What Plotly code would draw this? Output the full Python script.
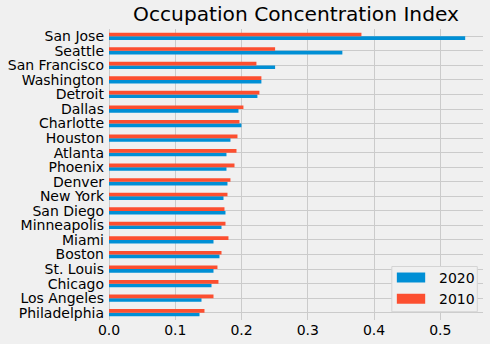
import plotly.graph_objects as go

# Cities listed from top of the chart to bottom
cities = ["San Jose", "Seattle", "San Francisco", "Washington", "Detroit",
          "Dallas", "Charlotte", "Houston", "Atlanta", "Phoenix", "Denver",
          "New York", "San Diego", "Minneapolis", "Miami", "Boston",
          "St. Louis", "Chicago", "Los Angeles", "Philadelphia"]
index_2020 = [0.5376, 0.3522, 0.2507, 0.2300, 0.2240, 0.1954, 0.1999, 0.1833,
              0.1773, 0.1773, 0.1788, 0.1728, 0.1758, 0.1698, 0.1577, 0.1667,
              0.1577, 0.1547, 0.1396, 0.1366]
index_2010 = [0.3810, 0.2507, 0.2225, 0.2300, 0.2270, 0.2029, 0.1969, 0.1939,
              0.1924, 0.1894, 0.1833, 0.1788, 0.1743, 0.1758, 0.1803, 0.1698,
              0.1637, 0.1652, 0.1577, 0.1441]
x_ticks = [0.0, 0.1, 0.2, 0.3, 0.4, 0.5]
series_names = ["2020", "2010"]

BLUE = "#008fd5"
RED = "#fc4f30"
BG = "#f0f0f0"
GRID = "#cbcbcb"
FONT = "DejaVu Sans"
TICK_SIZE = 14

# bottom-to-top order for the category axis
order = cities[::-1]

fig = go.Figure()
fig.add_trace(go.Bar(y=cities, x=index_2020, orientation="h", name=series_names[0],
                     marker=dict(color=BLUE, line=dict(width=0))))
fig.add_trace(go.Bar(y=cities, x=index_2010, orientation="h", name=series_names[1],
                     marker=dict(color=RED, line=dict(width=0))))

xmax = max(max(index_2020), max(index_2010)) * 1.05

W, H = 490, 344
ml, mr, mt, mb = 109.4, 7.3, 28.6, 23.7
pw, ph = W - ml - mr, H - mt - mb


def px_x(p):
    return (p - ml) / pw


def px_y(p):
    return (H - mb - p) / ph


fig.update_layout(
    width=W, height=H,
    margin=dict(l=ml, r=mr, t=mt, b=mb, pad=0),
    paper_bgcolor=BG, plot_bgcolor=BG,
    barmode="group", bargap=0.5, bargroupgap=0,
    showlegend=False,
    font=dict(family=FONT, color="#000000", size=TICK_SIZE),
    title=dict(text="Occupation Concentration Index", x=0.5, xref="paper",
               y=1 - 14 / H, yref="container", yanchor="middle",
               font=dict(family=FONT, size=20.2, color="#000000")),
    xaxis=dict(range=[0, xmax], tickvals=x_ticks, tickformat=".1f",
               showgrid=True, gridcolor=GRID, gridwidth=1.3,
               zeroline=True, zerolinecolor=GRID, zerolinewidth=1.3,
               ticks="", showline=False, tickfont=dict(size=TICK_SIZE)),
    yaxis=dict(categoryorder="array", categoryarray=order, range=[-0.5, 19.5],
               tickmode="array", tickvals=order, ticktext=order,
               showgrid=True, gridcolor=GRID, gridwidth=1.3,
               ticks="", showline=False, ticklabelstandoff=4,
               tickfont=dict(size=TICK_SIZE)),
)

# legend box
fig.add_shape(type="rect", xref="paper", yref="paper",
              x0=px_x(391.7), x1=px_x(477), y0=px_y(312), y1=px_y(266.7),
              line=dict(color="#d4d4d4", width=1), fillcolor=BG, layer="above")
entries = [(series_names[0], BLUE, 272.7, 282.7), (series_names[1], RED, 294, 304)]
for label, col, top, bot in entries:
    fig.add_shape(type="rect", xref="paper", yref="paper",
                  x0=px_x(396.7), x1=px_x(425), y0=px_y(bot), y1=px_y(top),
                  line=dict(width=0), fillcolor=col, layer="above")
    fig.add_annotation(xref="paper", yref="paper", x=px_x(436.7),
                       y=px_y((top + bot) / 2), text=label, showarrow=False,
                       xanchor="left", yanchor="middle",
                       font=dict(family=FONT, size=TICK_SIZE, color="#000000"))

fig.write_html("out.html")
